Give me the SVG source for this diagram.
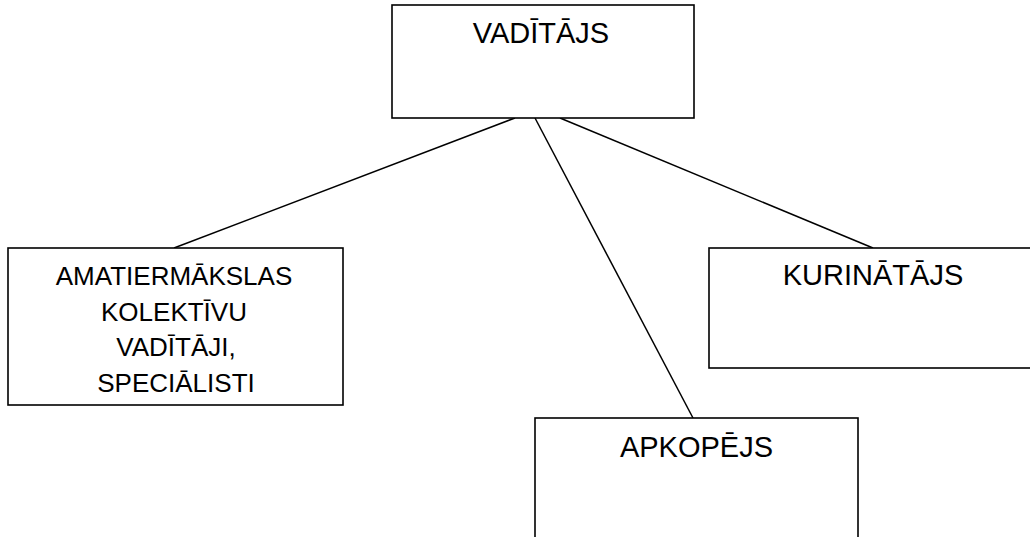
<svg xmlns="http://www.w3.org/2000/svg" width="1030" height="537" viewBox="0 0 1030 537">
<style>
.box{fill:#fff;stroke:#000;stroke-width:1.6}
.lbl{font-family:"Liberation Sans",Arial,sans-serif;font-size:29px;fill:#000;text-anchor:middle}
.sm{font-size:26px}
.con{stroke:#000;stroke-width:1.5;fill:none}
</style>
<rect width="1030" height="537" fill="#fff"/>
<g id="connectors">
<line class="con" x1="515" y1="118" x2="174" y2="248"/>
<line class="con" x1="535" y1="118" x2="693" y2="418"/>
<line class="con" x1="560" y1="118" x2="873" y2="248"/>
</g>
<g id="vaditajs">
<rect class="box" x="392" y="5" width="302" height="113"/>
<text class="lbl" x="541" y="43">VADĪTĀJS</text>
</g>
<g id="amatiermakslas">
<rect class="box" x="8" y="248" width="335" height="157"/>
<text class="lbl sm" x="174" y="285">AMATIERMĀKSLAS</text>
<text class="lbl sm" x="174" y="320.5">KOLEKTĪVU</text>
<text class="lbl sm" x="176" y="356">VADĪTĀJI,</text>
<text class="lbl sm" x="176" y="391.5">SPECIĀLISTI</text>
</g>
<g id="kurinatajs">
<rect class="box" x="709" y="248" width="330" height="120"/>
<text class="lbl" x="873" y="285">KURINĀTĀJS</text>
</g>
<g id="apkopejs">
<rect class="box" x="535" y="418" width="323" height="130"/>
<text class="lbl" x="696.5" y="457">APKOPĒJS</text>
</g>
</svg>
